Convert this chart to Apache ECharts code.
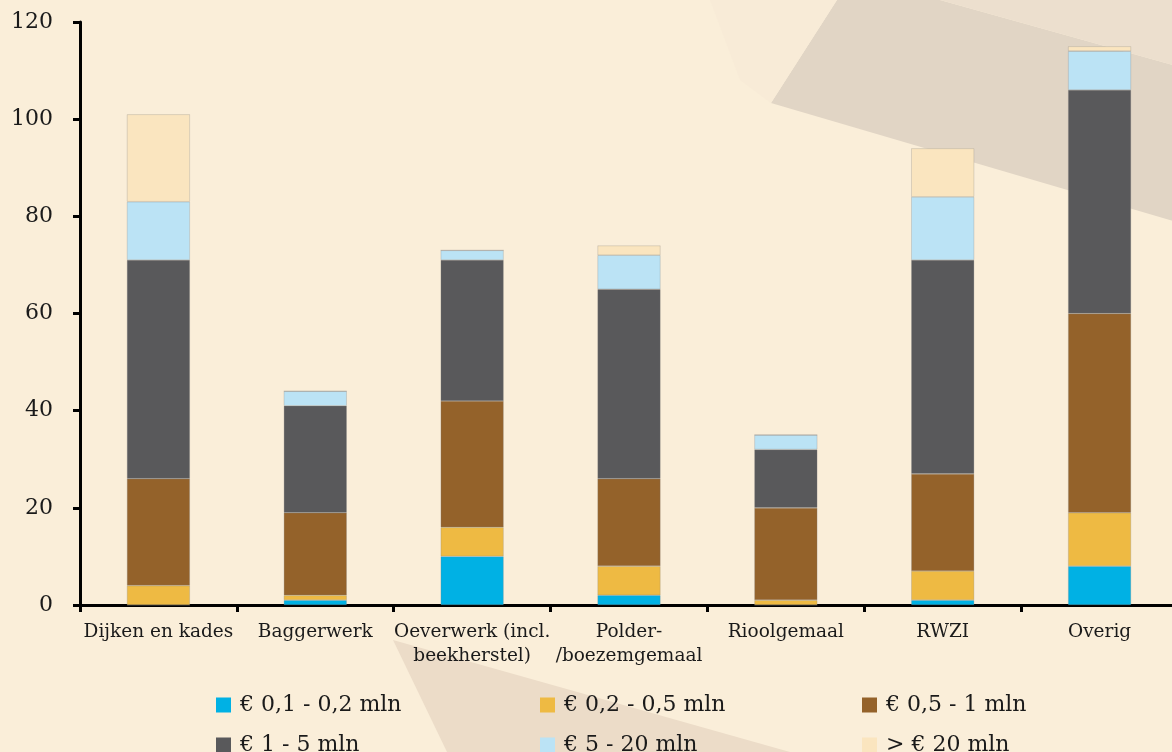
<!DOCTYPE html>
<html>
<head>
<meta charset="utf-8">
<script src="https://cdn.jsdelivr.net/npm/echarts@6/dist/echarts.min.js"></script>
<style>
  html, body { margin: 0; padding: 0; background: #faeed9; overflow: hidden; }
  #main { width: 1180px; height: 752px; }
</style>
</head>
<body>
<div id="main"></div>
<script>
// categories
var categories = ['Dijken en kades', 'Baggerwerk', 'Oeverwerk (incl.\nbeekherstel)', 'Polder-\n/boezemgemaal', 'Rioolgemaal', 'RWZI', 'Overig'];

// series names / colours
var names = ['€ 0,1 - 0,2 mln', '€ 0,2 - 0,5 mln', '€ 0,5 - 1 mln', '€ 1 - 5 mln', '€ 5 - 20 mln', '> € 20 mln'];
var colors = ['#00b1e4', '#eeba43', '#94622a', '#59595b', '#bbe3f5', '#fae5bf'];

// values per class, one entry per category
var v01_02 = [0, 1, 10, 2, 0, 1, 8];
var v02_05 = [4, 1, 6, 6, 1, 6, 11];
var v05_1  = [22, 17, 26, 18, 19, 20, 41];
var v1_5   = [45, 22, 29, 39, 12, 44, 46];
var v5_20  = [12, 3, 2, 7, 3, 13, 8];
var v20    = [18, 0, 0, 2, 0, 10, 1];
var values = [v01_02, v02_05, v05_1, v1_5, v5_20, v20];

var yTicks = [0, 20, 40, 60, 80, 100, 120];

var chart = echarts.init(document.getElementById('main'));

var series = names.map(function (n, i) {
  return {
    name: n,
    type: 'bar',
    stack: 'total',
    barWidth: 63,
    data: values[i],
    itemStyle: { color: colors[i], borderColor: 'rgba(130,130,130,0.45)', borderWidth: 0.6 }
  };
});

// legend: 3 columns x 2 rows
var legendPos = [[211, 689], [535, 689], [857, 689], [211, 729], [535, 729], [857, 729]];
var legends = names.map(function (n, i) {
  return {
    data: [{ name: n, icon: 'rect', itemStyle: { borderWidth: 0 } }],
    left: legendPos[i][0],
    top: legendPos[i][1],
    itemWidth: 15,
    itemHeight: 15,
    textStyle: { fontFamily: 'DejaVu Serif', fontSize: 22, color: '#1a1a1a', padding: [0, 0, 0, 4] },
    selectedMode: false
  };
});

chart.setOption({
  backgroundColor: '#faeed9',
  animation: false,
  graphic: [
    { type: 'polygon', z: -10, shape: { points: [[837, 0], [940, 0], [1180, 67], [1180, 223], [771, 103]] }, style: { fill: '#e1d5c5' } },
    { type: 'polygon', z: -10, shape: { points: [[940, 0], [1180, 0], [1180, 67]] }, style: { fill: '#ecdfce' } },
    { type: 'polygon', z: -10, shape: { points: [[710, 0], [837, 0], [771, 103], [740, 80]] }, style: { fill: '#f8ebd7' } },
    { type: 'polygon', z: -10, shape: { points: [[393, 640], [447, 752], [790, 752]] }, style: { fill: '#ecdcc8' } }
  ],
  legend: legends,
  grid: { left: 80, top: 22, width: 1098, height: 583, containLabel: false },
  xAxis: {
    type: 'category',
    data: categories,
    axisLine: { lineStyle: { color: '#000', width: 3 } },
    axisTick: { show: true, length: 7, lineStyle: { color: '#000', width: 3 } },
    axisLabel: { fontFamily: 'DejaVu Serif', fontSize: 18.5, color: '#1a1a1a', margin: 15, lineHeight: 24, interval: 0 }
  },
  yAxis: {
    type: 'value',
    min: 0,
    max: 120,
    interval: 20,
    axisLine: { show: true, lineStyle: { color: '#000', width: 3 } },
    axisTick: { show: true, length: 7, lineStyle: { color: '#000', width: 3 } },
    axisLabel: {
      fontFamily: 'DejaVu Serif', fontSize: 22, color: '#1a1a1a', margin: 27,
      formatter: function (v) { return yTicks.indexOf(v) >= 0 ? String(v) : ''; }
    },
    splitLine: { show: false }
  },
  series: series
});
</script>
</body>
</html>
